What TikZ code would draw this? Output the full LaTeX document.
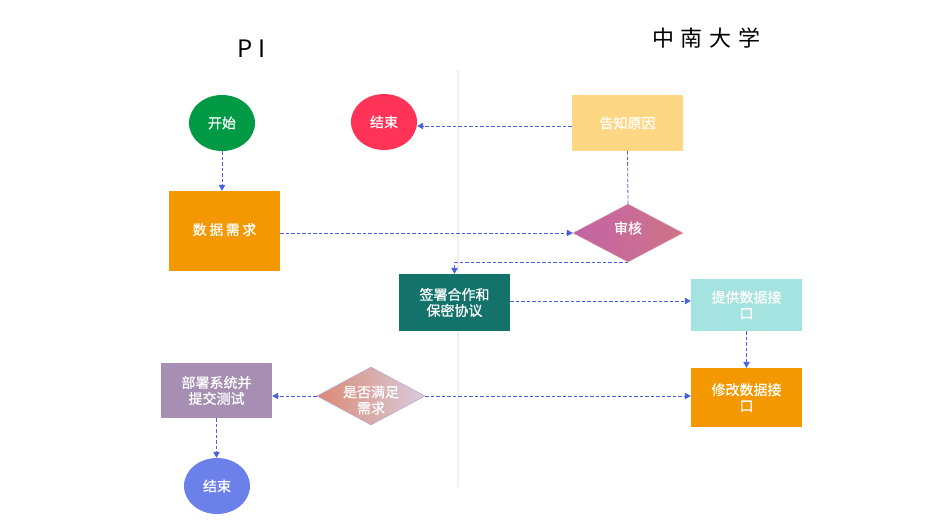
\documentclass[tikz,border=0pt]{standalone}
\usepackage{fontspec}
\setmainfont{Noto Sans CJK SC}
\usetikzlibrary{shapes.geometric,arrows.meta}
\definecolor{cgreen}{HTML}{009A44}
\definecolor{cred}{HTML}{FF3358}
\definecolor{corange}{HTML}{F39800}
\definecolor{cyellow}{HTML}{FDD784}
\definecolor{cteal}{HTML}{13736B}
\definecolor{ccyan}{HTML}{A4E3DF}
\definecolor{cpurple}{HTML}{A68FB3}
\definecolor{cblue}{HTML}{6B80E8}
\definecolor{carrow}{HTML}{4B62E0}
\definecolor{cdiv}{HTML}{F0F0F0}
\definecolor{shL}{HTML}{C363A6}
\definecolor{shR}{HTML}{CE7487}
\definecolor{qL}{HTML}{DA8A74}
\definecolor{qR}{HTML}{D9CCDC}
\definecolor{qB}{HTML}{BCA8D8}
\begin{document}
\begin{tikzpicture}[x=1pt,y=-1pt,
  lbl/.style={text=white,font=\fontsize{14}{16}\selectfont\addfontfeature{FakeBold=0.6},align=center,inner sep=0pt},
  oval/.style={ellipse,lbl,minimum width=66pt,minimum height=56pt},
  box/.style={rectangle,lbl,minimum width=111pt},
  dia/.style={diamond,inner sep=0pt,minimum width=110pt,minimum height=58pt},
  conn/.style={draw=carrow,line width=0.8pt,dash pattern=on 3.5pt off 2pt,-{Triangle[length=6pt,width=6.5pt]}},
  plainconn/.style={draw=carrow,line width=0.8pt,dash pattern=on 3.5pt off 2pt},
  head/.style={inner sep=0pt,text=black}
]
\useasboundingbox[fill=white] (0,0) rectangle (952,528);
% headers
\node[head,font=\fontsize{24}{28}\selectfont\addfontfeature{LetterSpace=25}] (hpi) at (251.5,48.5) {PI};
\node[head,font=\fontsize{22}{26}\selectfont\addfontfeature{LetterSpace=30}] (hcsu) at (706.3,38) {中南大学};
% divider
\coordinate (dtop) at (458,70);
\coordinate (dbot) at (458,487);
\draw[cdiv,line width=1.2pt] (dtop) -- (dbot);
% nodes
\node[oval,fill=cgreen] (start) at (222,123) {开始};
\node[oval,fill=cred] (end1) at (384,122) {结束};
\node[box,fill=corange,minimum height=80pt,font=\fontsize{14}{16}\selectfont\addfontfeature{LetterSpace=18,FakeBold=0.6}] (req) at (224.5,231) {\raisebox{4pt}{数据需求}};
\node[box,fill=cyellow,minimum height=56pt] (tell) at (627.5,123) {告知原因};
\node[dia,left color=shL,right color=shR,draw=shR!70!white,line width=0.4pt,
  label={[lbl,yshift=5pt]center:审核}] (sh) at (628,233) {};
\node[box,fill=cteal,minimum height=57pt] (sign) at (454.5,302.5) {签署合作和\\保密协议};
\node[box,fill=ccyan,minimum height=52pt] (prov) at (746.5,305) {提供数据接\\口};
\node[box,fill=corange,minimum height=59pt] (mod) at (746.5,397.5) {修改数据接\\口};
\node[dia,minimum width=108pt,left color=qL,right color=qR,draw=qB,line width=0.6pt,
  label={[lbl,yshift=-4pt]center:是否满足\\需求}] (q) at (371,396) {};
\node[box,fill=cpurple,minimum height=55pt] (dep) at (216.5,390.5) {部署系统并\\提交测试};
\node[oval,fill=cblue] (end2) at (217,486) {结束};
% connectors
\draw[conn] (start.south) -- (start.south |- req.north);
\draw[conn] (req.east |- sh.west) -- (sh.west);
\draw[plainconn] (tell.south) -- (sh.north);
\draw[conn] (tell.west |- 0,126) -- (end1.east |- 0,126);
\draw[conn] (sh.south) -| (sign.north);
\draw[conn] (sign.east |- 0,301) -- (prov.west |- 0,301);
\draw[conn] (prov.south) -- (mod.north);
\draw[conn] (q.east) -- (q.east -| mod.west);
\draw[conn] (q.west) -- (q.west -| dep.east);
\draw[conn] (dep.south) -- (dep.south |- end2.north);
\end{tikzpicture}
\end{document}
